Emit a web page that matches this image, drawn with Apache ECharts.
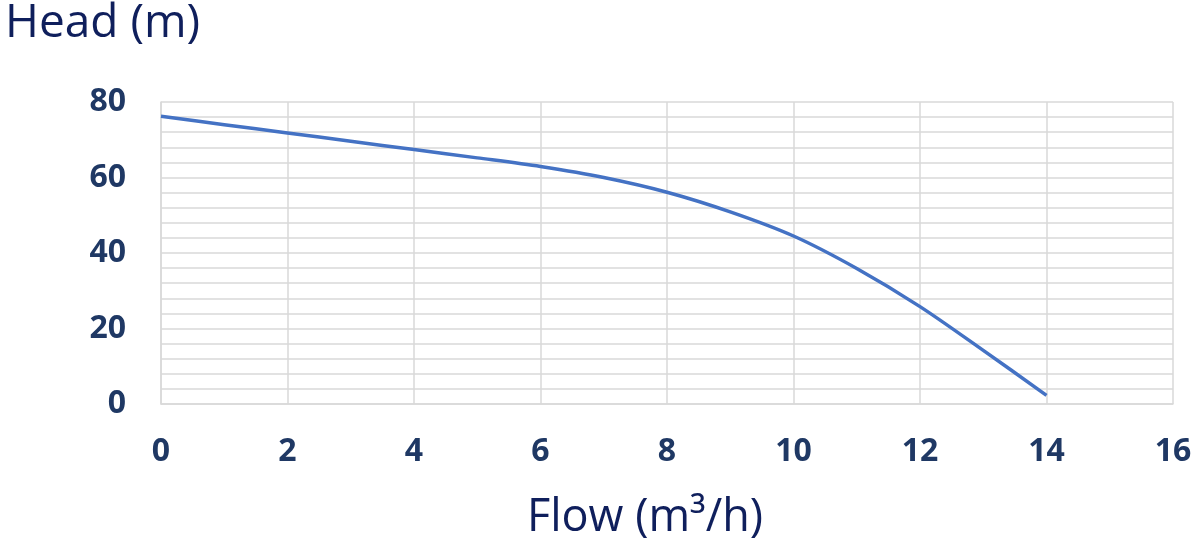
<!DOCTYPE html>
<html>
<head>
<meta charset="utf-8">
<script src="https://cdn.jsdelivr.net/npm/echarts@6/dist/echarts.min.js"></script>
<style>
  html, body { margin: 0; padding: 0; background: #fff; }
  #chart { width: 1200px; height: 548px; }
</style>
</head>
<body>
<div id="chart"></div>
<script>
	// pump curve data
	var flow = [0, 1, 2, 3, 4, 5, 6, 7, 8, 9, 10, 11, 12, 13, 14];
	var head = [76.2, 74.0, 71.8, 69.6, 67.4, 65.2, 62.9, 60.0, 56.1, 50.9, 44.5, 35.9, 25.8, 14.2, 2.3];
	var xTicks = [0, 16, 2];   // min, max, step
	var yTicks = [0, 80, 20];

	var points = [];
	for (var i = 0; i < flow.length; i++) {
		points.push([flow[i], head[i]]);
	}

	var gridColor = '#d9d9d9',
		labelColor = '#1f3864',
		nameColor = '#0f1f5c';

	var vm = echarts.init(document.getElementById('chart'));
	var option = {
		animation: false,
		grid: { left: 161, right: 27, top: 102, bottom: 144 },
		graphic: [
			{
				type: 'text', left: 5, top: 1,
				style: { text: 'Head (m)', fill: nameColor, font: '46px "Open Sans"' }
			},
			{
				type: 'text', x: 645, y: 518,
				style: { text: 'Flow (m³/h)', fill: nameColor, font: '45px "Open Sans"', align: 'center', verticalAlign: 'middle' }
			}
		],
		xAxis: {
			type: 'value',
			min: xTicks[0], max: xTicks[1], interval: xTicks[2],
			axisLine: { lineStyle: { color: gridColor, width: 1.5 } },
			axisTick: { show: false },
			axisLabel: { color: labelColor, fontFamily: 'Open Sans', fontWeight: 'bold', fontSize: 32, margin: 32 },
			splitLine: { show: true, lineStyle: { color: gridColor, width: 1.5 } }
		},
		yAxis: {
			type: 'value',
			min: yTicks[0], max: yTicks[1], interval: yTicks[2],
			axisLine: { show: true, lineStyle: { color: gridColor, width: 1.5 } },
			axisTick: { show: false },
			axisLabel: { color: labelColor, fontFamily: 'Open Sans', fontWeight: 'bold', fontSize: 32, margin: 35 },
			splitLine: { show: true, lineStyle: { color: gridColor, width: 1.5 } },
			minorTick: { show: false, splitNumber: 5 },
			minorSplitLine: { show: true, lineStyle: { color: gridColor, width: 1.5 } }
		},
		series: [
			{
				type: 'line',
				data: points,
				smooth: 0.3,
				showSymbol: false,
				lineStyle: { color: '#4472c4', width: 3.5 }
			}
		]
	};
	vm.setOption(option);
</script>
</body>
</html>
